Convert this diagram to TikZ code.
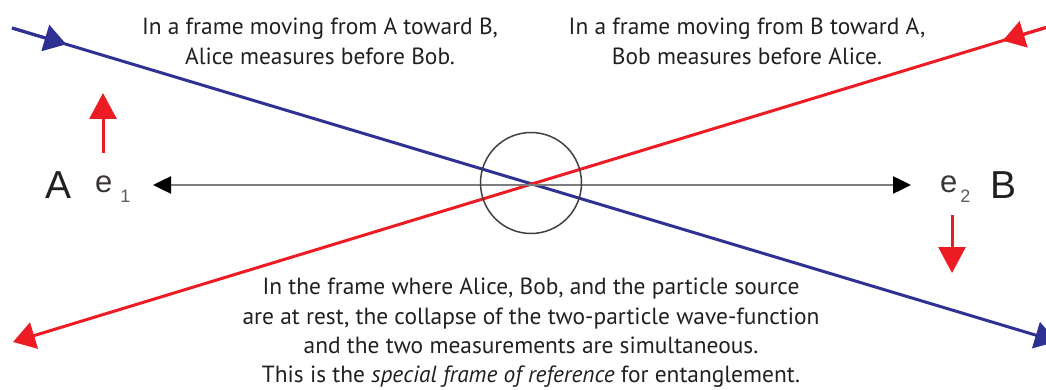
\documentclass[tikz,border=0pt]{standalone}
\usepackage{fontspec}
\setmainfont{PT Sans}
\newfontfamily\arialf{Liberation Sans}
\usetikzlibrary{arrows.meta,calc}
\definecolor{myblue}{RGB}{46,49,146}
\definecolor{myred}{RGB}{237,28,36}
\definecolor{txt}{RGB}{35,31,32}
\definecolor{subgray}{RGB}{90,90,90}
\definecolor{axisgray}{RGB}{125,125,125}
\tikzset{
  bline/.style={draw=myblue, line width=3pt},
  rline/.style={draw=myred, line width=3pt},
  bigtip/.style={-{Triangle[length=22pt,width=27pt]}},
  vtip/.style={-{Triangle[length=26pt,width=27pt]}},
  caption/.style={font=\fontsize{23.4}{30}\selectfont, text=txt, align=center, inner sep=0pt},
  lowcaption/.style={caption, font=\fontsize{23.4}{29.3}\selectfont},
  letter/.style={font=\arialf\fontsize{39}{39}\selectfont, text=txt, inner sep=0pt},
  elabel/.style={font=\arialf\fontsize{31}{31}\selectfont, text=txt!90, inner sep=0pt},
}
\newcommand{\subdig}[1]{\raisebox{-10pt}{\fontsize{18}{18}\selectfont\color{subgray}#1}}
\begin{document}
\begin{tikzpicture}[x=1pt,y=-1pt]
\useasboundingbox (0,0) rectangle (1046,390);
% diagonal world lines
\coordinate (bs) at (12,28);
\coordinate (be) at (1057,341.5);
\coordinate (rs) at (1046,27.5);
\coordinate (re) at (13,342);
\draw[bline,bigtip] (bs) -- (be);
\draw[bline,bigtip] (bs) -- ($(bs)!0.052!(be)$);
\draw[rline,bigtip] (rs) -- (re);
\draw[rline,bigtip] (rs) -- ($(rs)!0.042!(re)$);
% horizontal axis
\coordinate (gl) at (153,185);
\coordinate (gr) at (911,185);
\draw[draw=axisgray, line width=2.5pt,
  {Triangle[length=18pt,width=17pt,color=black]}-{Triangle[length=18pt,width=17pt,color=black]}] (gl) -- (gr);
% source circle
\node[circle, draw=black!75, line width=1.5pt, minimum size=101pt, inner sep=0pt] (src) at (531,183) {};
% spin arrows
\coordinate (u0) at (103,153);
\coordinate (u1) at (103,93);
\draw[rline,vtip] (u0) -- (u1);
\coordinate (d0) at (952,215);
\coordinate (d1) at (952,273);
\draw[rline,vtip] (d0) -- (d1);
% labels
\node[letter, anchor=base west] (A) at (45,199) {A};
\node[elabel, anchor=base west] (e1) at (95,193) {e\kern8pt\subdig{1}};
\node[elabel, anchor=base west] (e2) at (940,193) {e\kern3pt\subdig{2}};
\node[letter, anchor=base west] (B) at (990,199) {B};
% captions
\node[caption, anchor=north] (tl) at (320,18) {In a frame moving from A toward B,\\Alice measures before Bob.};
\node[caption, anchor=north] (tr) at (747,18) {In a frame moving from B toward A,\\Bob measures before Alice.};
\node[lowcaption, anchor=north] (bt) at (531,278) {In the frame where Alice, Bob, and the particle source\\are at rest, the collapse of the two-particle wave-function\\and the two measurements are simultaneous.\\This is the \textit{special frame of reference} for entanglement.};
\end{tikzpicture}
\end{document}
